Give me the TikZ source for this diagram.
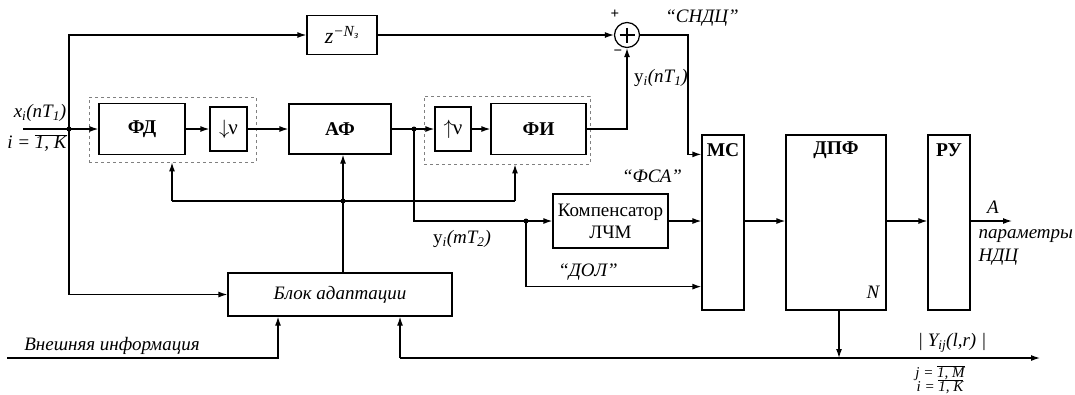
\documentclass[tikz,border=0pt]{standalone}
\usepackage{fontspec}
\setmainfont{Liberation Serif}
\usetikzlibrary{arrows.meta,calc}
\begin{document}
\begin{tikzpicture}[x=1pt,y=-1pt,
  line width=1.25pt,
  arr/.style={-{Latex[length=9pt,width=6pt]}},
  blk/.style={draw,line width=1.25pt,inner sep=0pt,anchor=center},
  grp/.style={draw=gray,dashed,line width=0.9pt,inner sep=0pt},
  dot/.style={circle,fill,inner sep=0pt,minimum size=5pt},
  lab/.style={font=\fontsize{19}{21}\selectfont\itshape,inner sep=0pt},
  bl/.style={font=\fontsize{19.5}{21}\selectfont\bfseries,inner sep=0pt}]
\useasboundingbox (0,0) rectangle (1075,394);
% groups
\node[grp,minimum width=167pt,minimum height=65pt] (g1) at (172.5,129.5) {};
\node[grp,minimum width=166pt,minimum height=68pt] (g2) at (507,130) {};
% blocks
\node[blk,bl,minimum width=86pt,minimum height=51pt] (fd) at (142,129) {ФД};
\node[blk,minimum width=37pt,minimum height=44pt,font=\fontsize{21}{23}\selectfont] (dn) at (228.5,129) {$\downarrow$\kern-1ptν};
\node[blk,bl,minimum width=102pt,minimum height=50pt] (af) at (340,129) {АФ};
\node[blk,minimum width=36pt,minimum height=44pt,font=\fontsize{21}{23}\selectfont] (up) at (453,129) {$\uparrow$\kern-1ptν};
\node[blk,bl,minimum width=95pt,minimum height=51pt] (fi) at (538.5,129) {ФИ};
\node[blk,minimum width=70pt,minimum height=39pt,font=\fontsize{22}{24}\selectfont\itshape] (z) at (342,35) {z\textsuperscript{−\textit{N}\textsubscript{з}}};
\node[draw,circle,minimum size=25pt,inner sep=0pt] (sum) at (627,35) {};
\draw ($(sum.center)+(-7.5,0)$) -- ($(sum.center)+(7.5,0)$);
\draw ($(sum.center)+(0,-7.5)$) -- ($(sum.center)+(0,7.5)$);
\node[blk,minimum width=42pt,minimum height=175pt] (mc) at (723,222.5) {};
\node[blk,minimum width=100pt,minimum height=175pt] (dpf) at (836,222.5) {};
\node[blk,minimum width=42pt,minimum height=175pt] (ru) at (949,222.5) {};
\node[bl] (mcl) at (723,150) {МС};
\node[bl] (dpfl) at (836,150) {ДПФ};
\node[bl] (rul) at (949,150) {РУ};
\node[lab] (nl) at (873,292) {N};
\node[blk,minimum width=115pt,minimum height=54pt,align=center,font=\fontsize{19}{22}\selectfont] (komp) at (610.5,221) {Компенсатор\\ЛЧМ};
\node[blk,lab,minimum width=224pt,minimum height=43pt] (blok) at (340,294.5) {Блок адаптации};
% coordinates
\coordinate (in) at (23,129);
\coordinate (j1) at (69,129);
\coordinate (j2) at (414,129);
\coordinate (j3) at (343,201);
\coordinate (j4) at (526,221);
\coordinate (fb1) at (172,201);
\coordinate (fb2) at (515,201);
\coordinate (t1) at (688,35);
\coordinate (out) at (1012,221);
\coordinate (ext) at (7,358);
\coordinate (b1) at (278,358);
\coordinate (b2) at (400,358);
\coordinate (b3) at (839,358);
\coordinate (bend) at (1040,358);
% connectors
\draw[arr] (in) -- (fd.west);
\draw[arr] (fd) -- (dn);
\draw[arr] (dn) -- (af);
\draw[arr] (af) -- (up);
\draw[arr] (up) -- (fi);
\draw[arr] (j1) |- (z.west);
\draw[arr] (z) -- (sum);
\draw[arr] (fi.east) -| (sum.south);
\draw[arr] (sum.east) -- (t1) |- ($(mc.north west)+(0,20)$);
\draw[arr] (j1) |- (blok.west);
\draw[arr] (fb1) -- (g1.south -| fb1);
\draw (fb1) -- (fb2);
\draw[arr] (fb2) -- (g2.south -| fb2);
\draw[arr] (blok.north -| j3) -- (af.south -| j3);
\draw (j2) |- (j4);
\draw[arr] (j4) -- (komp.west);
\draw[arr] (komp) -- (mc.west |- komp);
\draw[arr] (j4) |- ($(mc.south west)+(0,-24)$);
\draw[arr] (mc.east |- komp) -- (dpf.west |- komp);
\draw[arr] (dpf.east |- komp) -- (ru.west |- komp);
\draw[arr] (ru.east |- komp) -- (out);
\draw[arr] (ext) -- (b1) -- (blok.south -| b1);
\draw[arr] (b2) -- (blok.south -| b2);
\draw[arr] (b2) -- (bend);
\draw[arr] (dpf.south -| b3) -- (b3);
\node[dot] at (j1) {};
\node[dot] at (j2) {};
\node[dot] at (j3) {};
\node[dot] at (j4) {};
% labels
\node[lab] (lx) at (40,113) {x\textsubscript{i}(nT\textsubscript{1})};
\node[lab] (li) at (37,143) {i = $\overline{\hbox{\itshape 1, K}}$};
\node[font=\fontsize{15}{15}\selectfont\bfseries] (lp) at (615,14) {+};
\node[font=\fontsize{15}{15}\selectfont\bfseries] (lm) at (618,53) {−};
\node[lab] (lsn) at (702,18) {“СНДЦ”};
\node[lab] (ly1) at (661,78) {\textup{у}\textsubscript{i}(nT\textsubscript{1})};
\node[lab] (lfsa) at (652,176) {“ФСА”};
\node[lab] (ly2) at (462,239) {\textup{у}\textsubscript{i}(mT\textsubscript{2})};
\node[lab] (ldol) at (588,272) {“ДОЛ”};
\node[lab] (la) at (993,207) {A};
\node[lab,anchor=west] (lpar) at (978,236) {параметры};
\node[lab,anchor=west] (lndc) at (978,257) {НДЦ};
\node[lab] (lvn) at (112,346) {Внешняя информация};
\node[lab] (lY) at (952,343) {| Y\textsubscript{ij}(l,r) |};
\node[lab,font=\fontsize{15}{17}\selectfont\itshape] (lj) at (940,373) {j = $\overline{\hbox{\itshape 1, M}}$};
\node[lab,font=\fontsize{15}{17}\selectfont\itshape] (li2) at (940,387) {i = $\overline{\hbox{\itshape 1, K}}$};
\end{tikzpicture}
\end{document}
